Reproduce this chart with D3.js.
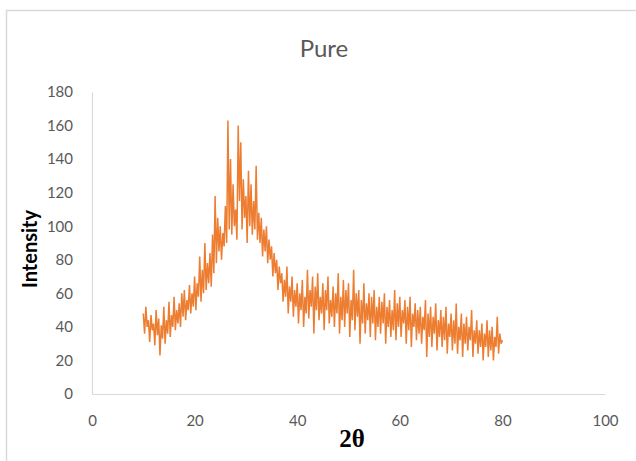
<!DOCTYPE html>
<html><head><meta charset="utf-8">
<script src="https://cdn.jsdelivr.net/npm/d3@7"></script>
<style>
html,body{margin:0;padding:0;background:#fff;}
svg{display:block;}
</style></head>
<body>
<svg id="chart" width="636" height="461"></svg>
<script>
// 2θ start and step of the scan
const startAngle = 10;
const stepAngle = 0.25;
// intensity readings (one per step, 10 → 80)
const intensity = [
48,36,52,40, 44,31,47,38, 42,29,50,35, 45,23,41,33, 52,30,44,36,
55,34,47,40, 58,38,50,42, 54,40,60,46, 62,44,56,50, 65,48,60,52,
70,50,66,58, 82,55,74,60, 90,62,78,66, 84,64,95,72, 118,78,105,85,
100,80,96,88, 112,90,163,98, 140,95,125,100, 110,92,160,115, 150,98,128,105,
118,90,133,100, 125,95,115,98, 136,92,108,90, 105,82,98,85, 100,78,92,80,
88,70,84,72, 80,62,76,66, 72,55,68,58, 76,48,64,55, 70,46,62,52,
66,42,60,50, 68,40,58,48, 74,45,62,52, 70,36,64,50, 72,44,58,48,
66,38,62,50, 70,42,56,46, 64,40,60,48, 72,36,58,44, 68,40,62,48,
66,34,56,44, 74,38,60,46, 62,30,56,42, 66,36,54,44, 60,34,58,42,
62,32,52,40, 58,36,55,42, 60,30,52,40, 56,34,50,38, 62,32,54,40,
58,34,50,42, 56,30,52,38, 58,28,48,40, 54,32,50,36, 52,30,46,38,
56,22,48,34, 52,28,46,36, 54,26,44,34, 50,28,46,32, 52,24,42,34,
48,26,44,30, 54,24,40,32, 48,22,42,30, 46,26,40,32, 50,22,38,30,
44,24,38,28, 42,20,36,28, 44,22,38,26, 40,20,34,28, 46,24,36,30,
32
];
const xTicks = [0,20,40,60,80,100];
const yTicks = [0,20,40,60,80,100,120,140,160,180];
const titleText = "Pure";
const xLabel = "2θ";
const yLabel = "Intensity";

const data = intensity.map((v,i)=>({x:startAngle+i*stepAngle, y:v}));

const svg = d3.select("#chart");
const mLeft=92, mRight=605, mTop=92, mBottom=394;
const x = d3.scaleLinear().domain([0,100]).range([mLeft,mRight]);
const y = d3.scaleLinear().domain([0,180]).range([mBottom,mTop]);

// outer frame
svg.append("path").attr("d","M6.5,461 L6.5,10.5 L636,10.5")
  .attr("fill","none").attr("stroke","#d9d9d9").attr("stroke-width",1.5);

const font = "Lato, 'Open Sans', sans-serif";

// title
svg.append("text").attr("x",324).attr("y",57).attr("text-anchor","middle")
  .attr("font-family",font).attr("font-size",24).attr("fill","#595959").text(titleText);

// axes
const xAxis = d3.axisBottom(x).tickValues(xTicks).tickSize(0).tickPadding(21);
const gx = svg.append("g").attr("transform",`translate(0,${mBottom})`).call(xAxis);
gx.select(".domain").attr("stroke","#d9d9d9").attr("stroke-width",1.2);
gx.selectAll("text").attr("font-family",font).attr("font-size",15).attr("fill","#595959");

const yAxis = d3.axisLeft(y).tickValues(yTicks).tickSize(0).tickPadding(19);
const gy = svg.append("g").attr("transform",`translate(${mLeft},0)`).call(yAxis);
gy.select(".domain").attr("stroke","#d9d9d9").attr("stroke-width",1.2);
gy.selectAll("text").attr("font-family",font).attr("font-size",15).attr("fill","#595959");

// line
const line = d3.line().x(d=>x(d.x)).y(d=>y(d.y));
svg.append("path").datum(data).attr("d",line)
  .attr("fill","none").attr("stroke","#ED7D31").attr("stroke-width",1.5)
  .attr("stroke-linejoin","miter");

// axis titles
svg.append("text").attr("transform","translate(37,249) rotate(-90)")
  .attr("text-anchor","middle").attr("font-family",font).attr("font-weight","bold")
  .attr("font-size",20).attr("fill","#000").text(yLabel);
svg.append("text").attr("x",352).attr("y",447).attr("text-anchor","middle")
  .attr("font-family","'Liberation Serif', 'DejaVu Serif', serif").attr("font-weight","bold")
  .attr("font-size",25).attr("fill","#000").text(xLabel);
</script>
</body></html>
